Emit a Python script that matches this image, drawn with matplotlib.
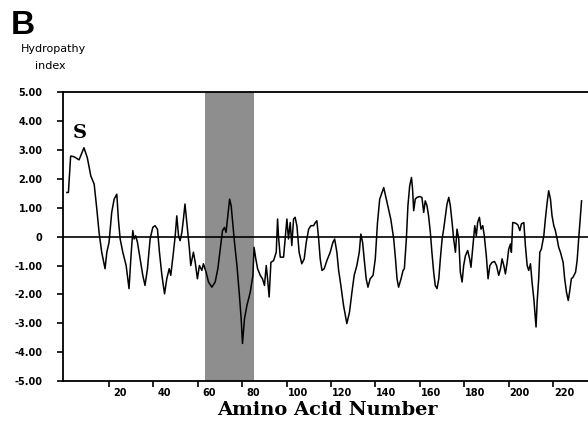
import matplotlib
matplotlib.use("Agg")
import matplotlib.pyplot as plt
from matplotlib.transforms import ScaledTranslation

# ---- data ----
residue = [1, 1.7, 2.7, 4.2, 5.7, 6.5, 7.5, 8.7, 10.2, 11.8, 13.3, 14.5, 15.5, 16.7, 18.2,
           19.0, 20.0, 21.2, 22.3, 23.5, 24.2, 25.0, 26.2, 27.7, 29.0, 29.9, 30.7, 31.3,
           32.0, 32.8, 34.0, 35.2, 36.2, 37.3, 38.5, 39.7, 40.7, 41.8, 42.7, 43.8, 45.0,
           46.0, 47.1, 47.8, 49.0, 49.8, 50.5, 51.3, 52.0, 52.8, 53.5, 54.2,
           55.0, 56.2, 56.8, 58.0, 58.8, 59.8, 60.7, 61.8, 62.5, 63.7, 64.8, 66.3, 67.8,
           69.0, 70.1, 71.1, 72.0, 72.7, 73.5, 74.3, 75.0, 75.7, 76.5, 77.6, 78.6, 79.5,
           80.1, 81.0, 82.1, 83.6, 84.8, 85.3, 86.1, 86.9, 88.1, 89.1, 90.0, 90.8, 91.4,
           92.1, 92.9, 94.1, 95.3, 95.9, 96.3, 97.1, 98.6, 99.3, 100.1, 100.8, 101.6,
           102.3, 103.1, 103.8, 104.6, 105.6, 106.8, 107.9, 108.8, 109.9, 110.9, 112.1,
           112.9, 113.6, 114.4, 115.1, 115.9, 116.9, 118.1, 119.6, 120.8, 121.6, 122.6,
           123.4, 124.4, 125.6, 127.1, 128.3, 129.4, 130.4, 131.6, 132.7, 133.4, 134.2,
           134.9, 135.8, 136.6, 137.6, 138.9, 139.9, 140.9, 141.9,
           143.7, 145.9, 146.9, 148.2, 149.0, 149.7, 150.4, 151.5, 152.4, 153.0, 153.9,
           154.6, 155.4, 156.2, 156.7, 157.2, 157.9, 158.7, 159.8, 160.9, 161.7, 162.4,
           163.2, 163.9, 164.7, 165.4, 166.2, 166.9, 167.7, 168.5, 169.2, 170.0, 170.7,
           171.5, 172.2, 173.0, 173.7, 174.5, 175.2, 176.0, 176.7, 177.5, 178.2, 179.0,
           179.7, 180.5, 181.5, 182.4, 183.0, 183.9, 184.7, 185.4, 186.0, 186.8, 187.5,
           188.3, 189.0, 189.9, 190.7, 191.5, 192.5, 193.6, 194.5, 195.5, 196.3, 197.0,
           197.8, 198.5, 199.3, 200.0, 200.8, 201.2, 201.8, 203.0, 204.1, 205.0, 205.7,
           206.8, 207.5, 208.3, 209.0, 209.8, 210.5, 211.3, 212.0, 212.3, 212.8, 213.5,
           214.0, 214.7, 215.8, 216.5, 217.3, 218.0, 218.8, 219.5, 220.3, 221.0, 221.8,
           222.5, 223.3, 224.5, 225.2, 226.0, 226.8, 227.4, 228.2, 229.0, 230.1, 230.8,
           231.5, 232.3, 232.8]
hydropathy = [1.53, 1.53, 2.79, 2.77, 2.70, 2.66, 2.85, 3.08, 2.74, 2.10, 1.82, 0.95, 0.15,
              -0.54, -1.11, -0.54, -0.20, 0.84, 1.30, 1.47, 0.61, -0.08, -0.54, -1.00, -1.80,
              -0.66, 0.21, -0.08, 0.03, -0.20, -0.77, -1.34, -1.69, -1.11, -0.08, 0.32, 0.38,
              0.26, -0.54, -1.34, -1.98, -1.46, -1.11, -1.34, -0.54, 0.03, 0.72, 0.03, -0.14,
              0.15, 0.61, 1.13,
              0.49, -0.43, -1.00, -0.54, -0.88, -1.46, -1.00, -1.17, -0.94, -1.23, -1.57,
              -1.75, -1.57, -1.11, -0.43, 0.21, 0.32, 0.15, 0.72, 1.30, 1.07, 0.49, -0.20,
              -1.00, -1.92, -2.84, -3.70, -2.84, -2.38, -1.92, -1.34, -0.37, -0.77, -1.11,
              -1.34, -1.46, -1.69, -1.00, -1.46, -2.09, -0.89, -0.83, -0.54, 0.61, 0.03,
              -0.71, -0.71, -0.08, 0.61, -0.08, 0.49, -0.31, 0.61, 0.67, 0.38, -0.54, -0.94,
              -0.77, -0.20, 0.26, 0.38, 0.38, 0.49, 0.55, -0.08, -0.77, -1.17, -1.11, -0.83,
              -0.54, -0.20, -0.08, -0.54, -1.17, -1.69, -2.38, -3.01, -2.61, -1.92, -1.34,
              -1.00, -0.54, 0.09, -0.20, -0.77, -1.46, -1.75, -1.46, -1.34, -0.77, 0.49, 1.30,
              1.70, 0.95, 0.60, -0.08, -0.77, -1.46, -1.75, -1.46, -1.17, -1.11, -0.08,
              1.07, 1.76, 2.05, 1.64, 0.90, 1.30, 1.36, 1.39, 1.36, 0.84, 1.24,
              1.07, 0.72, 0.15, -0.54, -1.23, -1.69, -1.80, -1.46, -0.77, -0.08, 0.26,
              0.72, 1.13, 1.36, 1.07, 0.49, -0.08, -0.54, 0.26, -0.08, -1.23, -1.57,
              -1.00, -0.66, -0.48, -0.77, -1.06, -0.31, 0.38, 0.03, 0.49, 0.67, 0.26,
              0.38, 0.03, -0.66, -1.46, -1.00, -0.89, -0.86, -1.00, -1.34, -1.11, -0.77,
              -1.00, -1.29, -0.89, -0.43, -0.25, -0.54, 0.49, 0.47, 0.41, 0.21, 0.44,
              0.49, -0.31, -1.00, -1.17, -0.94, -1.57, -2.15, -2.84, -3.13, -2.26, -1.46,
              -0.54, -0.43, 0.03, 0.61, 1.18, 1.59, 1.30, 0.72, 0.38, 0.21, -0.08,
              -0.37, -0.54, -0.89, -1.46, -1.92, -2.21, -1.92, -1.46, -1.40, -1.23, -0.83,
              -0.08, 0.72, 1.24]
shade_range = [63.3, 85.4]
xticks = [20, 40, 60, 80, 100, 120, 140, 160, 180, 200, 220]
yticks = [5, 4, 3, 2, 1, 0, -1, -2, -3, -4, -5]
ytick_labels = ["5.00", "4.00", "3.00", "2.00", "1.00", "0", "-1.00", "-2.00",
                "-3.00", "-4.00", "-5.00"]

W, H = 588, 423
fig = plt.figure(figsize=(W / 100, H / 100), dpi=100)
ax = fig.add_axes([63.3 / W, 1 - 381 / H, 1 - 63.3 / W, (381 - 92.3) / H])

ax.axvspan(shade_range[0], shade_range[1], color="#8e8e8e", lw=0, zorder=1)
ax.axhline(0, color="black", lw=1.2, zorder=2)
ax.plot(residue, hydropathy, color="black", lw=1.1, zorder=3)

ax.set_xlim(-0.6, 235.7)
ax.set_ylim(-5, 5)

for s in ["top", "left", "bottom"]:
    ax.spines[s].set_linewidth(1.3)
ax.spines["right"].set_visible(False)

ax.set_xticks(xticks)
ax.set_xticklabels([str(t) for t in xticks])
ax.set_yticks(yticks)
ax.set_yticklabels(ytick_labels)
ax.tick_params(axis="x", direction="out", length=4, width=1.2, pad=1,
               labelsize=7)
ax.tick_params(axis="y", direction="out", length=4, width=1.2, pad=11,
               labelsize=7)
for lab in ax.get_xticklabels() + ax.get_yticklabels():
    lab.set_fontweight("bold")
off = ScaledTranslation(11 / 100, 0, fig.dpi_scale_trans)
for lab in ax.get_xticklabels():
    lab.set_transform(lab.get_transform() + off)

fig.text(327 / W, 1 - 410 / H, "Amino Acid Number", ha="center", va="center",
         family="DejaVu Serif", fontweight="bold", fontsize=14)
fig.text(80 / W, 1 - 133 / H, "S", ha="center", va="center",
         family="DejaVu Serif", fontweight="bold", fontsize=14)
fig.text(23 / W, 1 - 25 / H, "B", ha="center", va="center",
         family="Liberation Sans", fontweight="bold", fontsize=24)
fig.text(53 / W, 1 - 49 / H, "Hydropathy", ha="center", va="center",
         fontsize=8)
fig.text(50 / W, 1 - 66 / H, "index", ha="center", va="center", fontsize=8)

fig.savefig("out.png", dpi=100)
